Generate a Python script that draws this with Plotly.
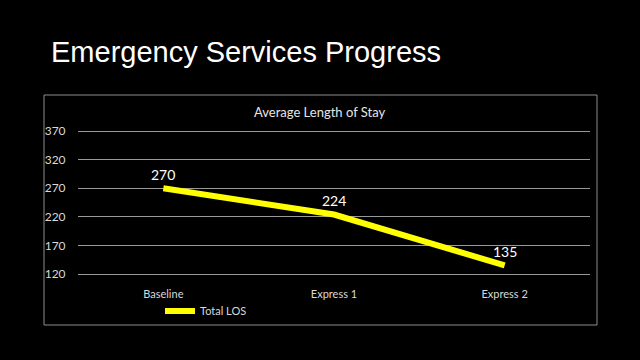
import plotly.graph_objects as go

categories = ["Baseline", "Express 1", "Express 2"]
total_los = [270, 224, 135]
y_ticks = [120, 170, 220, 270, 320, 370]

fig = go.Figure()
fig.add_trace(go.Scatter(
    x=categories, y=total_los, mode="lines", name="Total LOS",
    line=dict(color="#FFFF00", width=6),
))

label_annotations = [
    dict(x=c, y=v, xref="x", yref="y", text=str(v), showarrow=False,
         yshift=14, font=dict(color="white", size=14, family="Lato"))
    for c, v in zip(categories, total_los)
]

# plot area: 120 -> y=274px, 370 -> y=131px (plus padding so edge gridlines show)
top, bottom = 129, 84
def py(p):
    return (360 - bottom - p) / (360 - top - bottom)
def px(p):
    return (p - 78) / 512

fig.update_layout(
    width=640, height=360,
    paper_bgcolor="black", plot_bgcolor="black",
    margin=dict(l=78, r=50, t=top, b=bottom),
    font=dict(family="Lato", color="#d9d9d9", size=11),
    showlegend=True,
    legend=dict(orientation="h", x=0.25, xanchor="center", y=py(311), yanchor="middle",
                font=dict(size=11, color="#d9d9d9"), bgcolor="rgba(0,0,0,0)"),
    xaxis=dict(range=[-0.5, 2.5], showgrid=False, zeroline=False, showline=False,
               ticks="outside", ticklen=8, tickcolor="rgba(0,0,0,0)"),
    yaxis=dict(range=[116.5, 373.5], tickvals=y_ticks, showgrid=True, gridcolor="#999999",
               gridwidth=1, zeroline=False, showline=False, tickfont=dict(size=12),
               ticks="outside", ticklen=9, tickcolor="rgba(0,0,0,0)"),
    shapes=[dict(type="rect", xref="paper", yref="paper", x0=px(44), x1=px(597),
                 y0=py(325), y1=py(95), line=dict(color="#8c8c8c", width=1))],
    annotations=label_annotations + [
        dict(text="Emergency Services Progress", xref="paper", yref="paper",
             x=px(49), y=py(52), xanchor="left", yanchor="middle",
             showarrow=False, font=dict(family="Liberation Sans", size=29, color="white")),
        dict(text="Average Length of Stay", xref="paper", yref="paper",
             x=px(320), y=py(112), xanchor="center", yanchor="middle",
             showarrow=False, font=dict(family="Lato", size=13, color="#e6e6e6")),
    ],
)

fig.write_html("out.html", config={"displayModeBar": False},
               post_script="document.body.style.margin='0';document.body.style.background='black';")
